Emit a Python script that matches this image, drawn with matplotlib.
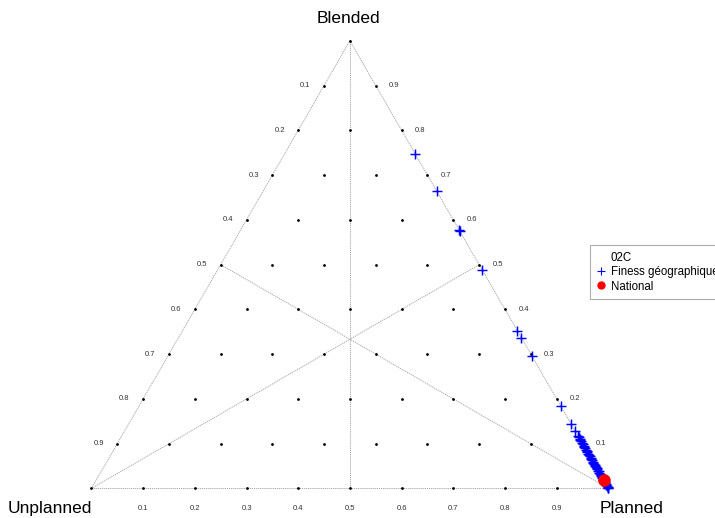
import numpy as np
import matplotlib
matplotlib.use('Agg')
import matplotlib.pyplot as plt
from matplotlib.lines import Line2D

plt.rcParams['font.family'] = ['Liberation Sans', 'DejaVu Sans']

# ----- Data (shares, unplanned share ~ 0 for all) -----
corners = ['Unplanned', 'Planned', 'Blended']
tick_values = [0.1, 0.2, 0.3, 0.4, 0.5, 0.6, 0.7, 0.8, 0.9]

finess_blended = [0.748, 0.664, 0.578, 0.574, 0.489, 0.352, 0.337, 0.296, 0.184,
                  0.143, 0.128, 0.118, 0.114, 0.111, 0.108, 0.105, 0.102, 0.099,
                  0.096, 0.093, 0.090, 0.087, 0.084, 0.081, 0.078, 0.075, 0.072,
                  0.069, 0.066, 0.063, 0.060, 0.058, 0.055, 0.053, 0.050, 0.048,
                  0.045, 0.043, 0.040, 0.038, 0.035, 0.033, 0.030, 0.028, 0.025,
                  0.023, 0.020, 0.018, 0.015, 0.013, 0.010, 0.008, 0.005, 0.003,
                  0.001, 0.000]
finess_planned = [0.252, 0.336, 0.422, 0.426, 0.511, 0.648, 0.663, 0.704, 0.816,
                  0.857, 0.872, 0.882, 0.886, 0.889, 0.892, 0.895, 0.898, 0.901,
                  0.904, 0.907, 0.910, 0.913, 0.916, 0.919, 0.922, 0.925, 0.928,
                  0.931, 0.934, 0.937, 0.940, 0.942, 0.945, 0.947, 0.950, 0.952,
                  0.955, 0.957, 0.960, 0.962, 0.965, 0.967, 0.970, 0.972, 0.975,
                  0.977, 0.980, 0.982, 0.985, 0.987, 0.990, 0.992, 0.995, 0.997,
                  0.999, 1.000]

national_blended = [0.018]
national_planned = [0.982]

H = np.sqrt(3) / 2.


def tern(planned, blended):
    # ternary -> cartesian : Unplanned (0,0), Planned (1,0), Blended (0.5, H)
    planned = np.asarray(planned, dtype=float)
    blended = np.asarray(blended, dtype=float)
    return planned + blended / 2., blended * H


fig = plt.figure(figsize=(7.15, 5.18), dpi=100)
ax = fig.add_axes([0, 0, 1, 1])
ax.set_xlim(-0.1768, 1.2062)
ax.set_ylim(-0.0571, 0.9449)
ax.axis('off')

# triangle edges and medians
lc = '0.62'
ls = (0, (1.5, 1.0))
ax.plot([0, 1, 0.5, 0], [0, 0, H, 0], color=lc, lw=0.6, linestyle=ls)
mx, my = tern([0.5, 0.5, 0.0], [0.5, 0.0, 0.5])
vx, vy = tern([0.0, 0.0, 1.0], [0.0, 1.0, 0.0])
for i in range(3):
    ax.plot([vx[i], mx[i]], [vy[i], my[i]], color=lc, lw=0.6, linestyle=ls)

# lattice dots
gp, gb = [], []
for i in range(11):
    for j in range(11 - i):
        gp.append(i / 10.)
        gb.append(j / 10.)
gx, gy = tern(gp, gb)
ax.plot(gx, gy, linestyle='none', marker='o', markersize=1.0, color='black')

# edge tick labels
tk = dict(fontsize=5.5, color='#333333', ha='center', va='center')
for t in tick_values:
    bx, by = tern(t, 0.0)
    ax.text(bx, by - 0.039, '%.1f' % t, **tk)
    lx, ly = tern(0.0, 1 - t)
    ax.text(lx - 0.036, ly, '%.1f' % t, **tk)
    rx, ry = tern(1 - t, t)
    ax.text(rx + 0.036, ry, '%.1f' % t, **tk)

# corner labels
ax.text(0.497, 0.910, corners[2], fontsize=12.5, ha='center', va='center')
ax.text(-0.080, -0.038, corners[0], fontsize=12.5, ha='center', va='center')
ax.text(1.044, -0.038, corners[1], fontsize=12.5, ha='center', va='center')

# data
fx, fy = tern(finess_planned, finess_blended)
ax.plot(fx, fy, linestyle='none', marker='+', markersize=6.5, mew=1.05,
        color='#0000ff', label='Finess géographique')
nx, ny = tern(national_planned, national_blended)
ax.plot(nx, ny, linestyle='none', marker='o', markersize=8, color='#ff0000',
        label='National')

handles = [Line2D([], [], linestyle='none', marker='none'),
           Line2D([], [], linestyle='none', marker='+', markersize=6, mew=0.8, color='#0000ff'),
           Line2D([], [], linestyle='none', marker='o', markersize=5, color='#ff0000')]
leg = ax.legend(handles, ['02C', 'Finess géographique', 'National'],
                loc='upper left', bbox_to_anchor=(590 / 715., 1 - 245 / 518.),
                bbox_transform=fig.transFigure, borderaxespad=0,
                fontsize=8.3, frameon=True, fancybox=False, handlelength=0.7,
                handletextpad=0.5, borderpad=0.6, labelspacing=0.2)
leg.get_frame().set_edgecolor('0.6')
leg.get_frame().set_linewidth(0.8)

fig.savefig('out.png', dpi=100)
